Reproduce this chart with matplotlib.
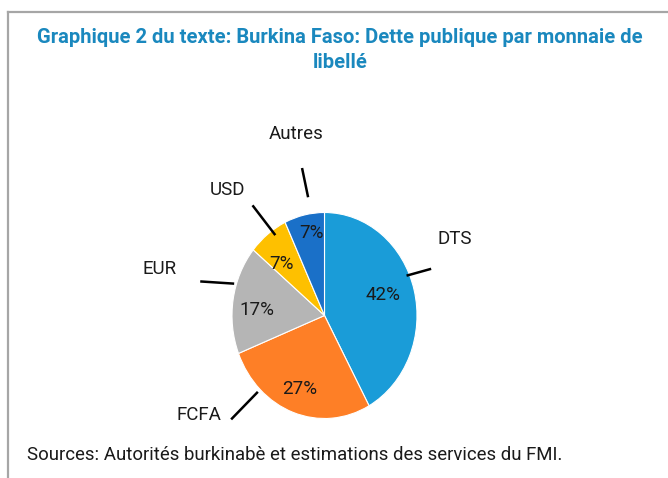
#Burkina Faso: public debt by currency of denomination (pie)

import numpy as np
import matplotlib
matplotlib.use("Agg")
import matplotlib.pyplot as plt

#data
currencies = ["DTS", "FCFA", "EUR", "USD", "Autres"]
shares = [42, 27, 17, 7, 7]
colors = ["#1A9CD8", "#FE7F26", "#B5B5B5", "#FEC000", "#1A70C8"]

title = "Graphique 2 du texte: Burkina Faso: Dette publique par monnaie de\nlibellé"
source = "Sources: Autorités burkinabè et estimations des services du FMI."

#layout (pie units, radius = 1)
label_pos = [(1.41, 0.74), (-1.36, -0.97), (-1.78, 0.45), (-1.05, 1.22), (-0.31, 1.76)]
leader = [((0.90, 0.39), (1.14, 0.45)),
          ((-1.00, -1.00), (-0.73, -0.75)),
          ((-1.33, 0.33), (-0.99, 0.31)),
          ((-0.77, 1.06), (-0.54, 0.79)),
          ((-0.24, 1.42), (-0.18, 1.16))]
pct_pos = [(0.63, 0.20), (-0.27, -0.71), (-0.73, 0.05), (-0.46, 0.50), (-0.14, 0.80)]

plt.rcParams['font.family'] = ['Roboto', 'DejaVu Sans']

W, H = 668, 478
fig = plt.figure(figsize=(W / 100, H / 100), dpi=100)

#grey frame (left and top only visible)
fig.add_artist(plt.Line2D([8 / W, 8 / W], [0, 1 - 12 / H], color="#A6A6A6", lw=1.6))
fig.add_artist(plt.Line2D([8 / W, 1], [1 - 12 / H, 1 - 12 / H], color="#A6A6A6", lw=1.6))

#title
fig.text(340 / W, 1 - 50 / H, title, ha="center", va="center", fontsize=14.5,
         fontweight="bold", color="#1A88BE", linespacing=1.45)

#pie is slightly elliptic in the reference
cx, cy, rx, ry = 324.5, 315.5, 92.5, 103
ax = fig.add_axes([(cx - rx) / W, 1 - (cy + ry) / H, 2 * rx / W, 2 * ry / H])
wedges, texts = ax.pie(shares, colors=colors, startangle=90, counterclock=False,
                       wedgeprops=dict(linewidth=0.8, edgecolor="white"))
ax.set_xlim(-1, 1)
ax.set_ylim(-1, 1)
ax.set_aspect("auto")
ax.axis("off")

total = sum(shares)
for i in range(len(shares)):
    pct = "%d%%" % round(100 * shares[i] / total)
    ax.text(pct_pos[i][0], pct_pos[i][1], pct, ha="center", va="center", fontsize=13.5, color="#1A1A1A")
    ax.text(label_pos[i][0], label_pos[i][1], currencies[i], ha="center", va="center",
            fontsize=13.5, color="#1A1A1A", clip_on=False)
    (x1, y1), (x2, y2) = leader[i]
    ax.plot([x1, x2], [y1, y2], color="black", lw=1.8, clip_on=False)

#source
fig.text(27 / W, 1 - 455 / H, source, ha="left", va="center", fontsize=13.4, color="#1A1A1A")

plt.savefig("out.png", dpi=100)
